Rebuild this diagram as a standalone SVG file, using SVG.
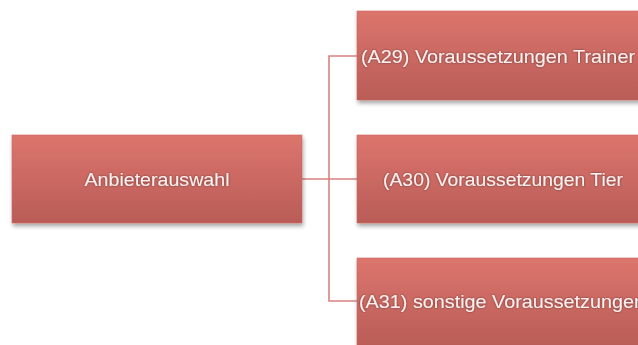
<svg xmlns="http://www.w3.org/2000/svg" width="638" height="345" viewBox="0 0 638 345">
<defs>
<linearGradient id="g" x1="0" y1="0" x2="0" y2="1">
<stop offset="0" stop-color="#dc756d"/>
<stop offset="1" stop-color="#b95c57"/>
</linearGradient>
<filter id="sh" x="-10%" y="-10%" width="125%" height="135%">
<feGaussianBlur in="SourceAlpha" stdDeviation="2"/>
<feOffset dx="1" dy="3" result="b"/>
<feComponentTransfer><feFuncA type="linear" slope="0.35"/></feComponentTransfer>
<feMerge><feMergeNode/><feMergeNode in="SourceGraphic"/></feMerge>
</filter>
<filter id="glow" x="-5%" y="-30%" width="110%" height="160%">
<feGaussianBlur in="SourceAlpha" stdDeviation="0.8"/>
<feComponentTransfer><feFuncA type="linear" slope="0.5"/></feComponentTransfer>
<feMerge><feMergeNode/><feMergeNode in="SourceGraphic"/></feMerge>
</filter>
</defs>
<style>
.box{fill:url(#g);stroke:#c9655f;stroke-width:0.6;filter:url(#sh)}
.t{font-family:"Liberation Sans",Arial,sans-serif;font-size:19px;fill:#fdf1f1;filter:url(#glow)}
.c{fill:none;stroke:#d9827f;stroke-width:1.6}
</style>
<rect width="638" height="345" fill="#ffffff"/>
<g id="connectors">
<path class="c" d="M302 179 H357"/>
<path class="c" d="M357 56 H329 V301 H357"/>
</g>
<g id="n0">
<rect class="box" x="12" y="135" width="290" height="88"/>
<text class="t" x="157" y="186" text-anchor="middle" textLength="145" lengthAdjust="spacingAndGlyphs">Anbieterauswahl</text>
</g>
<g id="n1">
<rect class="box" x="357" y="11" width="290" height="89"/>
<text class="t" x="361" y="63" textLength="274" lengthAdjust="spacingAndGlyphs">(A29) Voraussetzungen Trainer</text>
</g>
<g id="n2">
<rect class="box" x="357" y="135" width="290" height="88"/>
<text class="t" x="383" y="186" textLength="240" lengthAdjust="spacingAndGlyphs">(A30) Voraussetzungen Tier</text>
</g>
<g id="n3">
<rect class="box" x="357" y="258" width="290" height="89"/>
<text class="t" x="359" y="308" textLength="286" lengthAdjust="spacingAndGlyphs">(A31) sonstige Voraussetzungen</text>
</g>
</svg>
